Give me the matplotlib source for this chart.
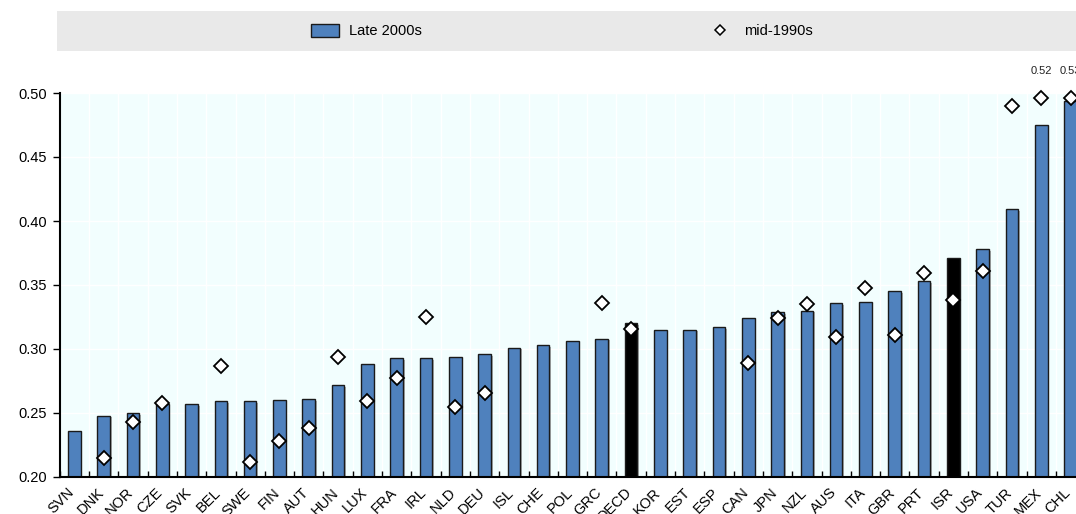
import numpy as np
import matplotlib
matplotlib.use("Agg")
import matplotlib.pyplot as plt
import matplotlib.transforms as mtransforms
from matplotlib.patches import Rectangle
from matplotlib.lines import Line2D
import matplotlib.patheffects as pe

plt.rcParams['font.family'] = ['Liberation Sans', 'DejaVu Sans']

# Gini coefficients, late 2000s vs mid-1990s
countries = ["SVN", "DNK", "NOR", "CZE", "SVK", "BEL", "SWE", "FIN", "AUT", "HUN",
             "LUX", "FRA", "IRL", "NLD", "DEU", "ISL", "CHE", "POL", "GRC", "OECD",
             "KOR", "EST", "ESP", "CAN", "JPN", "NZL", "AUS", "ITA", "GBR", "PRT",
             "ISR", "USA", "TUR", "MEX", "CHL"]
late_2000s = [0.236, 0.248, 0.250, 0.257, 0.257, 0.259, 0.259, 0.260, 0.261, 0.272,
              0.288, 0.293, 0.293, 0.294, 0.296, 0.301, 0.303, 0.306, 0.308, 0.320,
              0.315, 0.315, 0.317, 0.324, 0.329, 0.330, 0.336, 0.337, 0.345, 0.353,
              0.371, 0.378, 0.409, 0.475, 0.494]
mid_1990s = [np.nan, 0.215, 0.243, 0.258, np.nan, 0.287, 0.212, 0.228, 0.238, 0.294,
             0.259, 0.277, 0.325, 0.255, 0.266, np.nan, np.nan, np.nan, 0.336, 0.316,
             np.nan, np.nan, np.nan, 0.289, 0.324, 0.335, 0.309, 0.348, 0.311, 0.359,
             0.338, 0.361, 0.490, 0.52, 0.53]
highlight = ["OECD", "ISR"]

W, H = 1076, 514
fig = plt.figure(figsize=(W / 100, H / 100), dpi=100)
left_px, top_px, bottom_px = 59.7, 93, 477
ax = fig.add_axes([left_px / W, 1 - bottom_px / H, 35 * 29.3 / W, (bottom_px - top_px) / H])

ymin, ymax = 0.20, 0.50
x = np.arange(len(countries))
bar_colors = ["black" if c in highlight else "#4F81BD" for c in countries]

ax.set_facecolor("#F2FEFE")
bars = ax.bar(x, np.array(late_2000s) - ymin, bottom=ymin, width=0.43,
              color=bar_colors, edgecolor="#1a1a1a", linewidth=1.0, zorder=2,
              label="Late 2000s")
for b in bars:
    b.set_path_effects([pe.SimplePatchShadow(offset=(1.2, -1.2), shadow_rgbFace="gray", alpha=0.6),
                        pe.Normal()])

m90 = np.array(mid_1990s)
m90_plot = np.where(m90 > ymax, ymax - 0.004, m90)
ax.plot(x, m90_plot, linestyle="none", marker="D", markersize=7.5,
        markerfacecolor="white", markeredgecolor="black", markeredgewidth=1.3,
        zorder=3, clip_on=False, label="mid-1990s")
# values off the scale get a small label above the plot
for i, v in enumerate(m90):
    if v > ymax:
        ax.annotate(f"{v:.2f}", (x[i], ymax), xytext=(0, 16), textcoords="offset points",
                    ha="center", va="center", fontsize=8, color="#222222",
                    annotation_clip=False)

ax.set_xlim(-0.5, len(countries) - 0.5)
ax.set_ylim(ymin, ymax)
ax.set_yticks(np.arange(0.20, 0.501, 0.05))
ax.set_yticklabels([f"{t:.2f}" for t in np.arange(0.20, 0.501, 0.05)], fontsize=10.5)
ax.set_xticks(x)
ax.set_xticklabels(countries, rotation=45, ha="right", rotation_mode="anchor", fontsize=10.5)
ax.set_xticks(np.arange(-0.5, len(countries), 1.0), minor=True)
ax.tick_params(axis="x", which="major", length=0, pad=6)
ax.tick_params(axis="x", which="minor", direction="in", length=4.5, width=1, color="black")
ax.tick_params(axis="y", which="major", direction="out", length=5, width=1, pad=4)
# nudge rotated labels left (after tick_params, which resets transforms)
shift = mtransforms.ScaledTranslation(-7 / 100, 0, fig.dpi_scale_trans)
for lbl in ax.get_xticklabels():
    lbl.set_transform(lbl.get_transform() + shift)

ax.grid(True, which="minor", axis="x", color="white", linewidth=1.0, zorder=0)
ax.grid(True, which="major", axis="y", color="white", linewidth=1.0, zorder=0)
ax.set_axisbelow(True)
for s in ["top", "right"]:
    ax.spines[s].set_visible(False)
for s in ["left", "bottom"]:
    ax.spines[s].set_linewidth(1.5)
    ax.spines[s].set_color("black")

# legend band
fig.patches.append(Rectangle((57 / W, 1 - 51 / H), (W - 57) / W, 40 / H,
                             transform=fig.transFigure, facecolor="#E9E9E9",
                             edgecolor="none", zorder=0))
h_bar = Rectangle((0, 0), 1, 1, facecolor="#4F81BD", edgecolor="#1a1a1a", linewidth=1.0)
h_dia = Line2D([], [], linestyle="none", marker="D", markersize=5.5,
               markerfacecolor="white", markeredgecolor="black", markeredgewidth=1.1)
fig.legend([h_bar, h_dia], ["Late 2000s", "mid-1990s"], loc="center",
           bbox_to_anchor=(562 / W, 1 - 31 / H), ncol=2, frameon=False,
           fontsize=10.5, handlelength=1.9, handleheight=1.0, handletextpad=0.7,
           columnspacing=19.5)

fig.savefig("out.png", dpi=100)
